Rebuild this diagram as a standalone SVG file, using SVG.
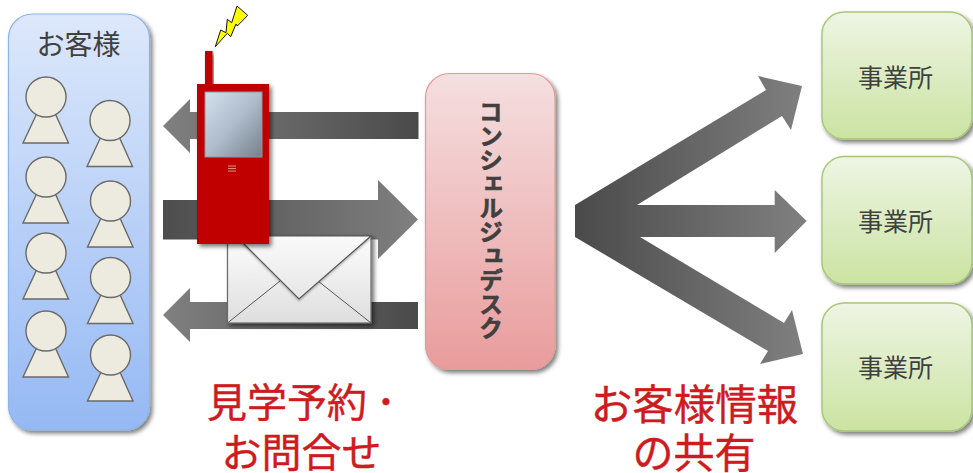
<svg xmlns="http://www.w3.org/2000/svg" width="973" height="473" viewBox="0 0 973 473">
<style>
text{font-family:"Noto Sans CJK JP","Noto Sans",sans-serif;text-anchor:middle}
.dark{fill:#404040}
.red{fill:#cf1a20;font-size:40px;stroke:#cf1a20;stroke-width:.4}
.site{fill:url(#green);stroke:#a8c878;stroke-width:1.5;filter:url(#sh)}
.lbl{font-size:25px}
.p{fill:#edebe0;stroke:#6a6a68;stroke-width:1.4}
</style>
<defs>
<filter id="sh" x="-10%" y="-10%" width="125%" height="125%"><feDropShadow dx="2.5" dy="3" stdDeviation="2" flood-color="#000" flood-opacity=".5"/></filter>
<filter id="sh2" x="-10%" y="-10%" width="125%" height="125%"><feDropShadow dx="2.5" dy="2.5" stdDeviation="2" flood-color="#000" flood-opacity=".55"/></filter>
<filter id="sh3" x="-10%" y="-10%" width="125%" height="125%"><feDropShadow dx="0" dy="1.500" stdDeviation="1" flood-color="#000" flood-opacity=".3"/></filter>
<linearGradient id="blue" x1="0" y1="0" x2="0" y2="1"><stop offset="0" stop-color="#dde8fb"/><stop offset="1" stop-color="#95b9f4"/></linearGradient>
<linearGradient id="pink" x1="0" y1="0" x2="0" y2="1"><stop offset="0" stop-color="#f5dfe0"/><stop offset="1" stop-color="#e99c9c"/></linearGradient>
<linearGradient id="green" x1="0" y1="0" x2="0" y2="1"><stop offset="0" stop-color="#eef5e4"/><stop offset="1" stop-color="#cbe3a2"/></linearGradient>
<linearGradient id="ar" gradientUnits="userSpaceOnUse" x1="163" y1="0" x2="418" y2="0"><stop offset="0" stop-color="#4d4d4d"/><stop offset="1" stop-color="#808080"/></linearGradient>
<linearGradient id="al" gradientUnits="userSpaceOnUse" x1="163" y1="0" x2="418" y2="0"><stop offset="0" stop-color="#808080"/><stop offset="1" stop-color="#4a4a4a"/></linearGradient>
<linearGradient id="fan" gradientUnits="userSpaceOnUse" x1="575" y1="0" x2="806" y2="0"><stop offset="0" stop-color="#4a4a4a"/><stop offset="1" stop-color="#808080"/></linearGradient>
<linearGradient id="screen" x1="0" y1="0" x2="1" y2="1"><stop offset="0" stop-color="#d3e0ee"/><stop offset=".5" stop-color="#aebccb"/><stop offset="1" stop-color="#75808c"/></linearGradient>
<linearGradient id="env" x1="0" y1="0" x2="0" y2="1"><stop offset="0" stop-color="#fdfdfd"/><stop offset="1" stop-color="#dedede"/></linearGradient>
<linearGradient id="flap" x1="0" y1="0" x2="0" y2="1"><stop offset="0" stop-color="#fafafa"/><stop offset="1" stop-color="#e6e6e6"/></linearGradient>
<g id="person"><path class="p" d="M-8.500 15L-23 46H22.500L8.500 15Z"/><circle class="p" r="20"/></g>
</defs>

<g id="connectors">
<path fill="url(#al)" d="M163 126L190 99V112H418.500V139H190V153Z"/>
<path fill="url(#ar)" d="M163 200H378V180L418 219.500L378 259V239.500H163Z"/>
<path fill="url(#al)" d="M163 315L190 288V302H418V329H190V342Z"/>
<path fill="url(#fan)" d="M575 205L766 90L758 76L802 86L791 130L782 116L637 205H774.700V190L806.700 221L774.700 253V237H640L784 323L792 310L803 354L760 364L768 351L575 237Z"/>
</g>

<g id="customers">
<rect x="8.500" y="14" width="141" height="416" rx="24" fill="url(#blue)" stroke="#8fb4e6" stroke-width="1.200" filter="url(#sh)"/>
<text class="dark" x="78.500" y="55" font-size="28">お客様</text>
<use href="#person" x="46" y="97"/>
<use href="#person" x="110" y="120.500"/>
<use href="#person" x="46" y="177"/>
<use href="#person" x="110.500" y="201"/>
<use href="#person" x="46" y="253"/>
<use href="#person" x="110.500" y="277.500"/>
<use href="#person" x="46" y="331"/>
<use href="#person" x="110.500" y="355"/>
</g>

<g id="mail">
<g filter="url(#sh2)">
<rect x="227.500" y="236" width="143.500" height="87" fill="url(#env)" stroke="#6a6a6a" stroke-width="1.200"/>
<path d="M227.500 323L280 281M371 323L318 281" fill="none" stroke="#555" stroke-width="1"/>
<path d="M236 236L299 299L371 236Z" fill="url(#flap)" stroke="#555" stroke-width="1.200" filter="url(#sh3)"/>
</g>
</g>

<g id="phone">
<rect x="205" y="51" width="7.500" height="34" fill="#c00000" filter="url(#sh2)"/>
<rect x="197" y="84" width="72" height="160" fill="#c00000" filter="url(#sh2)"/>
<rect x="205" y="92" width="57" height="65" fill="url(#screen)" stroke="#8a97a3" stroke-width="1"/>
<path d="M228 166h8M228 168.500h8M228 171h8" stroke="#e88a8a" stroke-width="1.200"/>
<path d="M215.300 46.700L220.700 30L226 32.700L227.300 19.300L231.700 22.700L237 6L247.700 15.300L237.300 26L236 24L230.700 36.700L227.300 33.300Z" fill="#ffff00" stroke="#111" stroke-width="1"/>
</g>

<g id="concierge">
<rect x="425.500" y="73.500" width="129.500" height="296" rx="24" fill="url(#pink)" stroke="#e29a9a" stroke-width="1.200" filter="url(#sh)"/>
<text class="dark" x="491" y="220" font-size="24" font-weight="700" stroke="#404040" stroke-width=".6" style="writing-mode:vertical-rl">コンシェルジュデスク</text>
</g>

<g id="site1"><rect class="site" x="822" y="12" width="150" height="127" rx="22"/><text class="dark lbl" x="895.500" y="87">事業所</text></g>
<g id="site2"><rect class="site" x="822" y="156.500" width="150" height="127.500" rx="22"/><text class="dark lbl" x="895.500" y="231">事業所</text></g>
<g id="site3"><rect class="site" x="822" y="303" width="150" height="128" rx="22"/><text class="dark lbl" x="895.500" y="377">事業所</text></g>

<g id="labels">
<text class="red" y="417"><tspan x="287">見学予約</tspan><tspan x="386">･</tspan></text>
<text class="red" x="301.500" y="467">お問合せ</text>
<text class="red" x="694.500" y="420" style="font-size:41.500px">お客様情報</text>
<text class="red" x="694" y="468" style="font-size:41px">の共有</text>
</g>
</svg>
